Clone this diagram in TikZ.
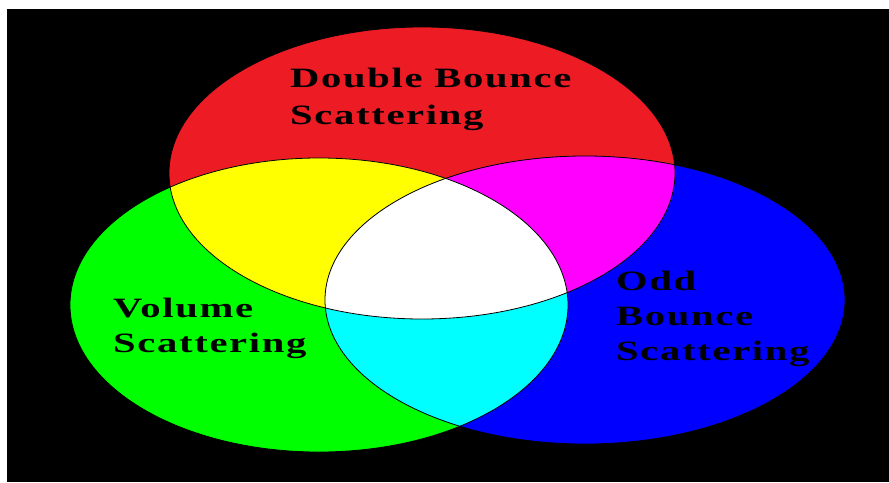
\documentclass[tikz,border=0pt]{standalone}
\usepackage{fontspec}
\usepackage{tikz}
\newfontfamily\venntext{Liberation Serif}[FakeStretch=1.45,LetterSpace=6]
\definecolor{vennRed}{HTML}{ED1C24}
\definecolor{vennGreen}{HTML}{00FF00}
\definecolor{vennBlue}{HTML}{0000FF}
\definecolor{vennYellow}{HTML}{FFFF00}
\definecolor{vennMagenta}{HTML}{FF00FF}
\definecolor{vennCyan}{HTML}{00FFFF}

% ellipse outlines
\newcommand\doubleset{(422,173) ellipse [x radius=253, y radius=146]}
\newcommand\volumeset{(319,305) ellipse [x radius=249, y radius=147]}
\newcommand\oddset{(585,300) ellipse [x radius=260, y radius=144]}

\begin{document}
\begin{tikzpicture}[
  x=1pt, y=-1pt,
  setlabel/.style={
    anchor=north west, inner sep=0pt, align=left, text=black,
    font=\venntext\bfseries\fontsize{28}{35}\selectfont,
  },
  setline/.style={draw=black, line width=0.8pt},
]

% canvas
\useasboundingbox (0,0) rectangle (889,482);
\fill[white] (0,0) rectangle (889,482);
\fill[black] (7,9) rectangle (889,482);

% single sets
\fill[vennRed] \doubleset;
\fill[vennGreen] \volumeset;
\fill[vennBlue] \oddset;

% pairwise overlaps
\begin{scope}
  \clip \doubleset;
  \fill[vennYellow] \volumeset;
\end{scope}
\begin{scope}
  \clip \doubleset;
  \fill[vennMagenta] \oddset;
\end{scope}
\begin{scope}
  \clip \volumeset;
  \fill[vennCyan] \oddset;
\end{scope}

% triple overlap
\begin{scope}
  \clip \doubleset;
  \clip \volumeset;
  \fill[white] \oddset;
\end{scope}

% borders
\draw[setline] \doubleset;
\draw[setline] \volumeset;
\draw[setline] \oddset;

% labels
\node[setlabel] (double) at (290,68) {Double Bounce\\[2pt]Scattering};
\node[setlabel] (volume) at (113,298) {Volume\\Scattering};
\node[setlabel] (odd) at (616,271) {Odd\\Bounce\\Scattering};

\end{tikzpicture}
\end{document}
